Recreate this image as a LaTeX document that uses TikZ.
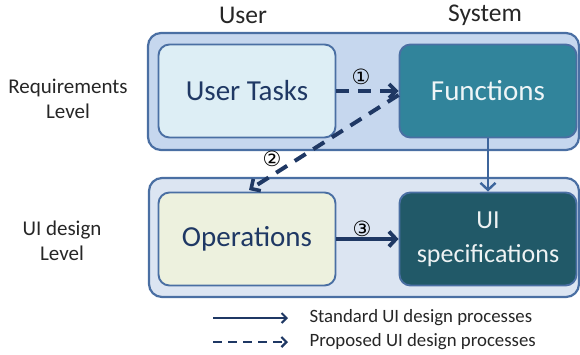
\documentclass[tikz,border=0pt]{standalone}
\usepackage{fontspec}
\setmainfont{Carlito}
\newfontfamily\circfont{DejaVu Sans}
\usetikzlibrary{arrows.meta}
\definecolor{outerfill}{HTML}{C6D7EE}
\definecolor{outerfillb}{HTML}{DCE5F2}
\definecolor{framecol}{HTML}{4A6FA3}
\definecolor{taskfill}{HTML}{DDEEF5}
\definecolor{opfill}{HTML}{EDF1DE}
\definecolor{funcfill}{HTML}{31849B}
\definecolor{specfill}{HTML}{215968}
\definecolor{navy}{HTML}{1F3864}
\definecolor{steel}{HTML}{3D659C}
\definecolor{labeltext}{HTML}{262626}
\tikzset{
  levelbox/.style={draw=framecol, line width=2.2pt, rounded corners=13pt},
  itembox/.style={draw=framecol, line width=1.9pt, rounded corners=11pt,
    minimum width=177pt, minimum height=93pt, align=center, inner sep=0pt},
  heading/.style={font=\fontsize{25.5}{28}\selectfont, text=labeltext},
  sidelabel/.style={font=\fontsize{21}{25}\selectfont, text=labeltext, align=center},
  proposed/.style={draw=navy, line width=4pt, dash pattern=on 13pt off 9pt,
    -{Straight Barb[length=7pt,width=14pt,line width=3.6pt]}},
  standard/.style={draw=navy, line width=4.4pt,
    -{Straight Barb[length=7pt,width=15pt,line width=3.8pt]}},
  stepnum/.style={font=\circfont\fontsize{21}{21}\selectfont, text=black, inner sep=0pt},
  legendtext/.style={font=\fontsize{18.8}{20}\selectfont, text=labeltext, anchor=west}
}
\begin{document}
\begin{tikzpicture}[x=1pt,y=-1pt]
\useasboundingbox (0,0) rectangle (580,354);

% level frames
\draw[levelbox, fill=outerfill] (148,33) rectangle (579,150);
\draw[levelbox, fill=outerfillb] (149,178) rectangle (579,297);

% column and row headings
\node[heading] (huser) at (243,15) {User};
\node[heading] (hsys) at (485,15) {System};
\node[sidelabel] (lreq) at (68,99) {Requirements\\Level};
\node[sidelabel] (lui) at (62,241) {UI design\\Level};

% items
\node[itembox, fill=taskfill, text=navy, font=\fontsize{29}{30}\selectfont] (tasks) at (247,91) {User Tasks};
\node[itembox, fill=funcfill, text=white!92!funcfill, font=\fontsize{29}{30}\selectfont] (func) at (488,91) {Functions};
\node[itembox, fill=opfill, text=navy, font=\fontsize{29}{30}\selectfont] (ops) at (247,239) {Operations};
\node[itembox, fill=specfill, text=white!92!specfill, font=\fontsize{26}{34}\selectfont] (spec) at (488,239) {UI\\specifications};

% processes
\draw[proposed] (tasks.east) -- (func.west);
\node[stepnum] (n1) at (361,77) {①};
\coordinate (p2start) at ([yshift=-4pt]func.west);
\coordinate (p2end) at (249,190);
\draw[proposed] (p2start) -- (p2end);
\node[stepnum] (n2) at (272,159) {②};
\draw[standard] (ops.east) -- (spec.west);
\node[stepnum] (n3) at (362,229) {③};
\draw[draw=steel, line width=2.6pt, -{Straight Barb[length=7pt,width=15pt,line width=2.4pt]}] (func.south) -- (spec.north);

% legend
\coordinate (ls1) at (213,318);
\coordinate (le1) at (288,318);
\coordinate (ls2) at (213,342);
\coordinate (le2) at (288,342);
\draw[draw=navy, line width=2pt, -{Straight Barb[length=5pt,width=10pt,line width=2pt]}] (ls1) -- (le1);
\draw[draw=navy, line width=2.4pt, dash pattern=on 9pt off 6pt, -{Straight Barb[length=5pt,width=10pt,line width=2.2pt]}] (ls2) -- (le2);
\node[legendtext] (t1) at (306,318) {Standard UI design processes};
\node[legendtext] (t2) at (306,342) {Proposed UI design processes};
\end{tikzpicture}
\end{document}
